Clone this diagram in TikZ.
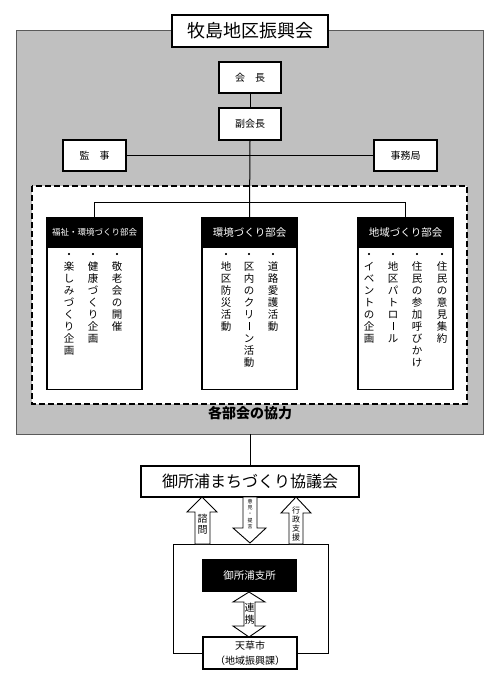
\documentclass[tikz,border=0pt]{standalone}
\usepackage{fontspec}
\usepackage{graphicx}
\setmainfont{Noto Sans CJK JP}
\usetikzlibrary{calc}
\definecolor{bg}{RGB}{192,192,192}
\definecolor{bgline}{RGB}{90,90,90}
\makeatletter
\newcommand\vcol[2][12pt]{\vbox{\baselineskip=#1\lineskip=0pt\lineskiplimit=-10pt\@tfor\vc:=#2\do{\hbox to 1.1em{\hss\vc\hss\vrule height .88em depth .12em width 0pt}}}}
\makeatother
\newcommand\cho{\vrule height .76em depth -.0em width .07em}
\begin{document}
\begin{tikzpicture}[x=1pt,y=-1pt,
  box/.style={draw, line width=1.6pt, fill=white, inner sep=0pt, font=\fontsize{10}{12}\selectfont},
  conn/.style={line width=1pt},
  body/.style={draw, line width=1.3pt, fill=white, minimum width=95pt, minimum height=172pt, anchor=north, inner sep=0pt},
  head/.style={fill=black, text=white, minimum width=95pt, minimum height=31pt, anchor=north, inner sep=0pt},
  vtxt/.style={anchor=north, inner sep=0pt, font=\fontsize{10.5}{12}\selectfont},
  arr/.style={draw, line width=0.9pt, fill=white}]
\useasboundingbox (0,0) rectangle (501,687);
\fill[white] (0,0) rectangle (501,687);
% gray background
\draw[fill=bg, draw=bgline, line width=1pt] (16.5,31) rectangle (483,434);
\coordinate (graybot) at (250,434);
% dashed area
\draw[fill=white, line width=1.8pt, dash pattern=on 6pt off 3pt] (32,186) rectangle (467,404);
% title
\node[box, minimum width=156pt, minimum height=32pt, font=\fontsize{18}{20}\selectfont] (title) at (250,31) {牧島地区振興会};
% officers
\node[box, minimum width=62pt, minimum height=31pt] (kaicho) at (250,77.5) {会\hspace{1em}長};
\node[box, minimum width=62pt, minimum height=32pt] (fuku) at (250,124) {副会長};
\node[box, minimum width=63pt, minimum height=31pt] (kansa) at (94.5,155.5) {監\hspace{1em}事};
\node[box, minimum width=63pt, minimum height=31pt] (jimu) at (405.5,155.5) {事務局};
% committees
\node[body] (lbox) at (94.5,217) {};
\node[head, font=\fontsize{8.5}{10}\selectfont] (lhead) at (94.5,217) {福祉・環境づくり部会};
\node[body] (mbox) at (249.5,217) {};
\node[head, font=\fontsize{10.5}{12}\selectfont] (mhead) at (249.5,217) {環境づくり部会};
\node[body] (rbox) at (405.5,217) {};
\node[head, font=\fontsize{10.5}{12}\selectfont] (rhead) at (405.5,217) {地域づくり部会};
% connectors
\draw[conn] (kaicho) -- (fuku);
\draw[conn] (kansa.east) -- (jimu.west);
\draw[conn] (fuku.south) -- (mhead.north);
\draw[conn] (lhead.north) -- ++(0,-15) -| (rhead.north);
% column texts
\node[vtxt] (l1) at (117,249) {\vcol{・敬老会の開催}};
\node[vtxt] (l2) at (93,249) {\vcol{・健康づくり企画}};
\node[vtxt] (l3) at (69,249) {\vcol{・楽しみづくり企画}};
\node[vtxt] (m1) at (273,249) {\vcol{・道路愛護活動}};
\node[vtxt] (m2) at (249,249) {\vcol{・区内のクリ\cho ン活動}};
\node[vtxt] (m3) at (226,249) {\vcol{・地区防災活動}};
\node[vtxt] (r1) at (442,249) {\vcol{・住民の意見集約}};
\node[vtxt] (r2) at (417,249) {\vcol{・住民の参加呼びかけ}};
\node[vtxt] (r3) at (393,249) {\vcol{・地区パトロ\cho ル}};
\node[vtxt] (r4) at (369,249) {\vcol{・イベントの企画}};
\node[font=\fontsize{14}{16}\selectfont\bfseries, inner sep=0pt] (kyoryoku) at (250,413) {各部会の協力};
% lower part
\node[box, minimum width=218pt, minimum height=31pt, font=\fontsize{16}{18}\selectfont] (kyogi) at (250,481.5) {御所浦まちづくり協議会};
\draw[conn] (graybot) -- (kyogi.north);
\draw[line width=1pt] (173,544) rectangle (328,653);
\draw[arr] (195,544) -- (195,512) -- (187,512) -- (202,497) -- (217,512) -- (210,512) -- (210,544) -- cycle;
\node[inner sep=0pt, font=\fontsize{10}{11}\selectfont] (shimon) at (202.5,524) {\vcol[11pt]{諮問}};
\draw[arr] (243,497) -- (243,528) -- (233,528) -- (250,543) -- (266,528) -- (257,528) -- (257,497) -- cycle;
\node[inner sep=0pt, font=\fontsize{5}{6}\selectfont] (teigen) at (250,514) {\vcol[6.2pt]{意見・提言}};
\draw[arr] (289,544) -- (289,513) -- (281,513) -- (296,497) -- (311,513) -- (303,513) -- (303,544) -- cycle;
\node[inner sep=0pt, font=\fontsize{8}{9}\selectfont] (gyosei) at (296,524) {\vcol[8.7pt]{行政支援}};
\node[fill=black, text=white, minimum width=95pt, minimum height=33pt, inner sep=0pt, font=\fontsize{10.5}{12}\selectfont] (shisho) at (249.5,575.5) {御所浦支所};
\draw[arr] (249,592) -- (265,602) -- (255,602) -- (255,626) -- (265,626) -- (249,637) -- (233,626) -- (244,626) -- (244,602) -- (233,602) -- cycle;
\node[inner sep=0pt, font=\fontsize{10}{12}\selectfont] (renkei) at (249.5,614) {\vcol[12pt]{連携}};
\node[box, minimum width=94pt, minimum height=32pt, align=center, font=\fontsize{10}{15}\selectfont] (amakusa) at (250,653) {天草市\\（地域振興課）};
\end{tikzpicture}
\end{document}
